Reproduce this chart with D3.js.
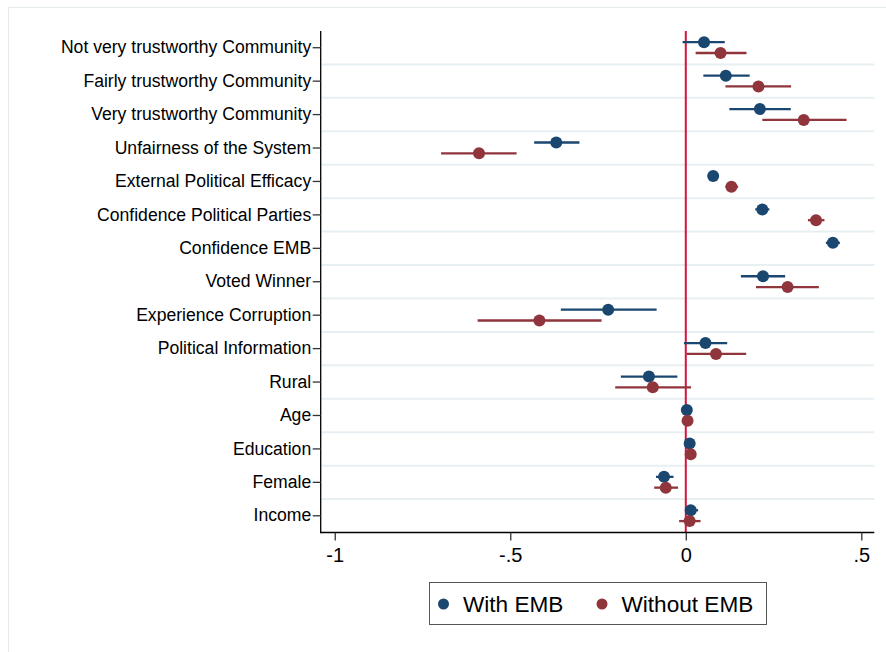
<!DOCTYPE html>
<html>
<head>
<meta charset="utf-8">
<script src="https://cdn.jsdelivr.net/npm/d3@7"></script>
<style>
  body { margin: 0; background: #fff; }
  text { font-family: "Liberation Sans", Arial, sans-serif; fill: #000; }
</style>
</head>
<body>
<div class="chart"></div>
<script>
// chart values
var categories = ["Not very trustworthy Community", "Fairly trustworthy Community",
  "Very trustworthy Community", "Unfairness of the System", "External Political Efficacy",
  "Confidence Political Parties", "Confidence EMB", "Voted Winner", "Experience Corruption",
  "Political Information", "Rural", "Age", "Education", "Female", "Income"];

// With EMB: estimate, lower and upper CI
var withEst = [0.052, 0.114, 0.211, -0.369, 0.078, 0.218, 0.419, 0.220, -0.221, 0.056, -0.105, 0.003, 0.011, -0.062, 0.014];
var withLo  = [-0.009, 0.050, 0.124, -0.432, 0.072, 0.198, 0.399, 0.157, -0.356, -0.005, -0.185, 0.000, 0.007, -0.085, -0.002];
var withHi  = [0.111, 0.182, 0.299, -0.303, 0.084, 0.238, 0.439, 0.283, -0.083, 0.118, -0.024, 0.006, 0.015, -0.035, 0.035];

// Without EMB (no Confidence EMB term)
var withoutEst = [0.099, 0.207, 0.336, -0.589, 0.130, 0.371, null, 0.290, -0.417, 0.086, -0.094, 0.005, 0.014, -0.057, 0.011];
var withoutLo  = [0.028, 0.113, 0.218, -0.697, 0.113, 0.348, null, 0.200, -0.593, 0.003, -0.201, 0.002, 0.010, -0.090, -0.019];
var withoutHi  = [0.173, 0.300, 0.458, -0.482, 0.149, 0.395, null, 0.379, -0.240, 0.172, 0.015, 0.008, 0.018, -0.022, 0.042];

var xTicks = [-1, -0.5, 0, 0.5];
var xTickLabels = ["-1", "-.5", "0", ".5"];
var seriesNames = ["With EMB", "Without EMB"];
var seriesColors = ["#1a476f", "#90353b"];

var svgWidth = 886;
var svgHeight = 652;

var svg = d3.select(".chart")
  .append("svg")
  .attr("width", svgWidth)
  .attr("height", svgHeight);

// faint outer frame
svg.append("rect")
  .attr("x", 8.5).attr("y", 7.5)
  .attr("width", 878).attr("height", 650)
  .attr("fill", "none")
  .attr("stroke", "#e4ebef")
  .attr("stroke-width", 1);

var plot = { left: 320.7, right: 874.3, top: 31, bottom: 532.5 };

var x = d3.scaleLinear()
  .domain([-1.040, 0.537])
  .range([plot.left, plot.right]);

var y = d3.scaleBand()
  .domain(categories)
  .range([plot.top, plot.bottom])
  .padding(0);

// gridlines between rows
svg.append("g")
  .selectAll("line")
  .data(categories.slice(1))
  .enter()
  .append("line")
  .attr("x1", plot.left + 1).attr("x2", plot.right)
  .attr("y1", function(d) { return y(d); })
  .attr("y2", function(d) { return y(d); })
  .attr("stroke", "#e8eff2")
  .attr("stroke-width", 2);

// reference line at zero
svg.append("line")
  .attr("x1", x(0)).attr("x2", x(0))
  .attr("y1", plot.top).attr("y2", plot.bottom)
  .attr("stroke", "#d4143f")
  .attr("stroke-width", 2);

// y axis
var yAxis = svg.append("g")
  .attr("transform", "translate(" + plot.left + ",0)")
  .call(d3.axisLeft(y).tickSize(8).tickPadding(1.5).tickSizeOuter(0));
yAxis.select(".domain").attr("stroke", "#000").attr("stroke-width", 1.3)
  .attr("d", "M0," + plot.top + "V" + (plot.bottom + 0.7));
yAxis.selectAll(".tick line").attr("stroke", "#333").attr("stroke-width", 1.3);
yAxis.selectAll(".tick text")
  .attr("font-size", "17.6px")
  .attr("font-family", "Liberation Sans, Arial, sans-serif")
  .attr("fill", "#000");

// x axis
var xAxis = svg.append("g")
  .attr("transform", "translate(0," + plot.bottom + ")")
  .call(d3.axisBottom(x).tickValues(xTicks)
    .tickFormat(function(d, i) { return xTickLabels[i]; })
    .tickSize(8).tickPadding(7).tickSizeOuter(0));
xAxis.select(".domain").attr("stroke", "#000").attr("stroke-width", 1.3)
  .attr("d", "M" + plot.left + ",0H" + plot.right);
xAxis.selectAll(".tick line").attr("stroke", "#333").attr("stroke-width", 1.3);
xAxis.selectAll(".tick text")
  .attr("font-size", "20px")
  .attr("font-family", "Liberation Sans, Arial, sans-serif")
  .attr("fill", "#000");

// points and CIs
var series = [
  { est: withEst, lo: withLo, hi: withHi, dy: -5.5, color: seriesColors[0] },
  { est: withoutEst, lo: withoutLo, hi: withoutHi, dy: 5.3, color: seriesColors[1] }
];

series.forEach(function(s) {
  var rows = categories.map(function(c, i) {
    return { cat: c, est: s.est[i], lo: s.lo[i], hi: s.hi[i] };
  }).filter(function(r) { return r.est !== null; });

  var g = svg.append("g");
  g.selectAll("line")
    .data(rows)
    .enter()
    .append("line")
    .attr("x1", function(d) { return x(d.lo); })
    .attr("x2", function(d) { return x(d.hi); })
    .attr("y1", function(d) { return y(d.cat) + y.bandwidth() / 2 + s.dy; })
    .attr("y2", function(d) { return y(d.cat) + y.bandwidth() / 2 + s.dy; })
    .attr("stroke", s.color)
    .attr("stroke-width", 2.3);

  g.selectAll("circle")
    .data(rows)
    .enter()
    .append("circle")
    .attr("cx", function(d) { return x(d.est); })
    .attr("cy", function(d) { return y(d.cat) + y.bandwidth() / 2 + s.dy; })
    .attr("r", 6)
    .attr("fill", s.color);
});

// legend
var legend = svg.append("g");
legend.append("rect")
  .attr("x", 429.5).attr("y", 582.5)
  .attr("width", 337).attr("height", 42)
  .attr("fill", "#fff")
  .attr("stroke", "#555")
  .attr("stroke-width", 1);

var legendX = [443.5, 602];
seriesNames.forEach(function(name, i) {
  legend.append("circle")
    .attr("cx", legendX[i]).attr("cy", 604)
    .attr("r", 5.5)
    .attr("fill", seriesColors[i]);
  legend.append("text")
    .attr("x", legendX[i] + 19.5).attr("y", 612)
    .attr("font-size", "22.6px")
    .text(name);
});
</script>
</body>
</html>
